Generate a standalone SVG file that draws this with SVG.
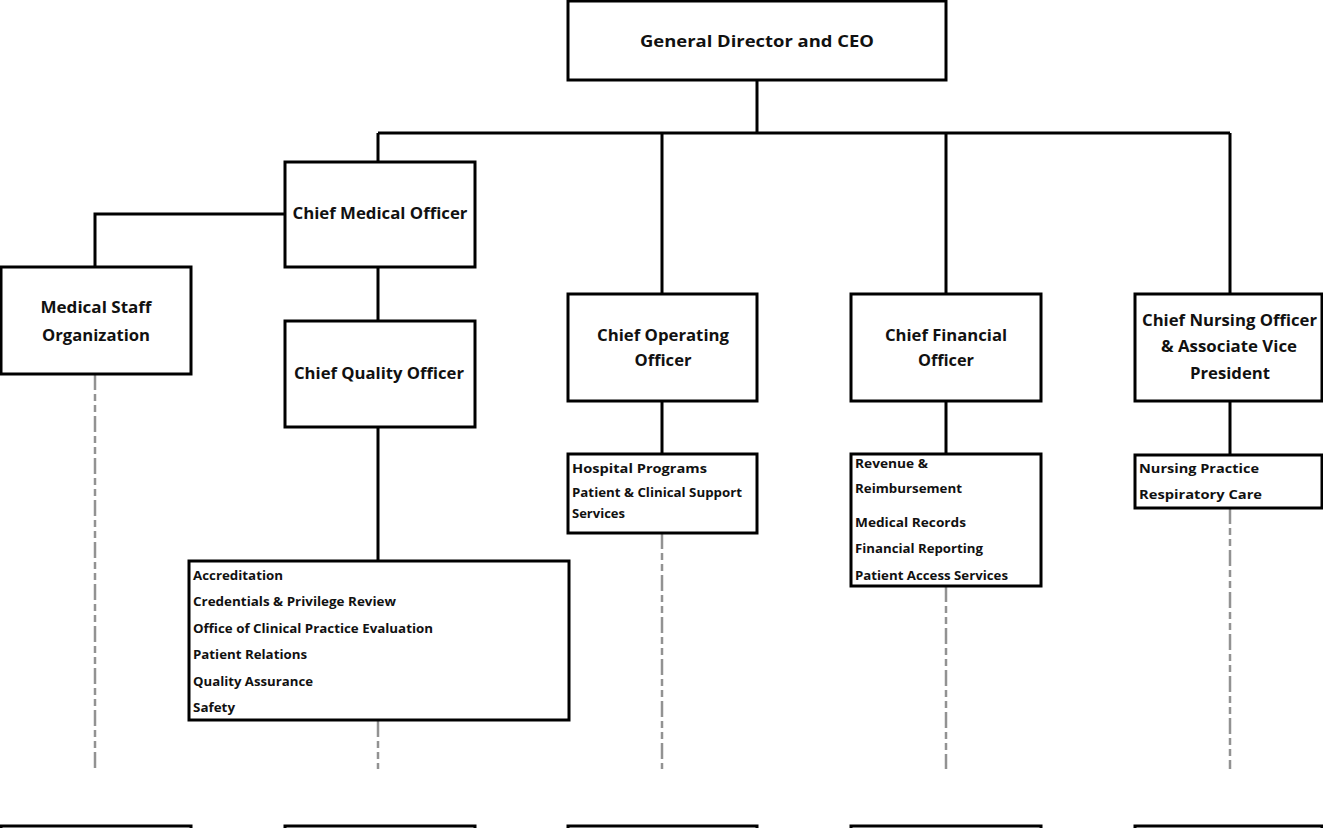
<svg xmlns="http://www.w3.org/2000/svg" width="1323" height="828" viewBox="0 0 1323 828">
<style>
.box{fill:#fff;stroke:#000;stroke-width:3}
.ln{fill:none;stroke:#000;stroke-width:3}
.dash{fill:none;stroke:#929292;stroke-width:2.5;stroke-dasharray:16 4 7 4 7 4}
.h{font-family:"Open Sans",Lato,sans-serif;font-weight:bold;font-size:16.5px;fill:#111;text-anchor:middle}
.l{font-family:"Open Sans",Lato,sans-serif;font-weight:bold;font-size:12.5px;fill:#111}
</style>
<g id="connectors">
<path class="ln" d="M757 80V133M378 133H1230M378 133V162M662 133V294M946 133V294M1230 133V294"/>
<path class="ln" d="M285 214H95V267M378 267V321M378 427V561M662 401V454M946 401V454M1230 401V455"/>
<path class="dash" d="M95 374V769" stroke-width="1.8"/>
<path class="dash" d="M378 721V769"/>
<path class="dash" d="M662 533V769"/>
<path class="dash" d="M946 586V769"/>
<path class="dash" d="M1230 508V769"/>
</g>
<g id="ceo"><rect class="box" x="568" y="1" width="378" height="79"/><text class="h" x="757" y="47" font-size="17.5" textLength="234" lengthAdjust="spacingAndGlyphs">General Director and CEO</text></g>
<g id="cmo"><rect class="box" x="285" y="162" width="190" height="105"/><text class="h" x="380" y="219" textLength="175" lengthAdjust="spacingAndGlyphs">Chief Medical Officer</text></g>
<g id="mso"><rect class="box" x="1" y="267" width="190" height="107"/><text class="h" x="96" y="313" textLength="111" lengthAdjust="spacingAndGlyphs">Medical Staff</text><text class="h" x="96" y="341" textLength="108" lengthAdjust="spacingAndGlyphs">Organization</text></g>
<g id="cqo"><rect class="box" x="285" y="321" width="190" height="106"/><text class="h" x="379" y="379" textLength="170" lengthAdjust="spacingAndGlyphs">Chief Quality Officer</text></g>
<g id="cqo-list"><rect class="box" x="189" y="561" width="380" height="159"/>
<text class="l" x="193" y="580" textLength="90" lengthAdjust="spacingAndGlyphs">Accreditation</text>
<text class="l" x="193" y="606" textLength="203" lengthAdjust="spacingAndGlyphs">Credentials &amp; Privilege Review</text>
<text class="l" x="193" y="633" textLength="240" lengthAdjust="spacingAndGlyphs">Office of Clinical Practice Evaluation</text>
<text class="l" x="193" y="659" textLength="114" lengthAdjust="spacingAndGlyphs">Patient Relations</text>
<text class="l" x="193" y="686" textLength="120" lengthAdjust="spacingAndGlyphs">Quality Assurance</text>
<text class="l" x="193" y="712" textLength="42" lengthAdjust="spacingAndGlyphs">Safety</text></g>
<g id="coo"><rect class="box" x="568" y="294" width="189" height="107"/><text class="h" x="663" y="341" textLength="132" lengthAdjust="spacingAndGlyphs">Chief Operating</text><text class="h" x="663" y="366" textLength="57" lengthAdjust="spacingAndGlyphs">Officer</text></g>
<g id="coo-list"><rect class="box" x="568" y="454" width="189" height="79"/>
<text class="l" x="572" y="473" font-size="14" textLength="135" lengthAdjust="spacingAndGlyphs">Hospital Programs</text>
<text class="l" x="572" y="497" textLength="170" lengthAdjust="spacingAndGlyphs">Patient &amp; Clinical Support</text>
<text class="l" x="572" y="518" textLength="53" lengthAdjust="spacingAndGlyphs">Services</text></g>
<g id="cfo"><rect class="box" x="851" y="294" width="190" height="107"/><text class="h" x="946" y="341" textLength="122" lengthAdjust="spacingAndGlyphs">Chief Financial</text><text class="h" x="946" y="366" textLength="56" lengthAdjust="spacingAndGlyphs">Officer</text></g>
<g id="cfo-list"><rect class="box" x="851" y="454" width="190" height="132"/>
<text class="l" x="855" y="468" textLength="73" lengthAdjust="spacingAndGlyphs">Revenue &amp;</text>
<text class="l" x="855" y="493" textLength="107" lengthAdjust="spacingAndGlyphs">Reimbursement</text>
<text class="l" x="855" y="527" textLength="111" lengthAdjust="spacingAndGlyphs">Medical Records</text>
<text class="l" x="855" y="553" textLength="128" lengthAdjust="spacingAndGlyphs">Financial Reporting</text>
<text class="l" x="855" y="580" textLength="153" lengthAdjust="spacingAndGlyphs">Patient Access Services</text></g>
<g id="cno"><rect class="box" x="1135" y="294" width="187" height="107"/><text class="h" x="1229.5" y="326" textLength="175" lengthAdjust="spacingAndGlyphs">Chief Nursing Officer</text><text class="h" x="1229" y="352" textLength="136" lengthAdjust="spacingAndGlyphs">&amp; Associate Vice</text><text class="h" x="1230" y="379" textLength="80" lengthAdjust="spacingAndGlyphs">President</text></g>
<g id="cno-list"><rect class="box" x="1135" y="455" width="187" height="53"/>
<text class="l" x="1139" y="473" textLength="120" lengthAdjust="spacingAndGlyphs">Nursing Practice</text>
<text class="l" x="1139" y="499" textLength="123" lengthAdjust="spacingAndGlyphs">Respiratory Care</text></g>
<g id="next-row">
<rect class="box" x="1" y="826" width="190" height="40"/>
<rect class="box" x="285" y="826" width="190" height="40"/>
<rect class="box" x="568" y="826" width="189" height="40"/>
<rect class="box" x="851" y="826" width="190" height="40"/>
<rect class="box" x="1135" y="826" width="187" height="40"/>
</g>
</svg>
